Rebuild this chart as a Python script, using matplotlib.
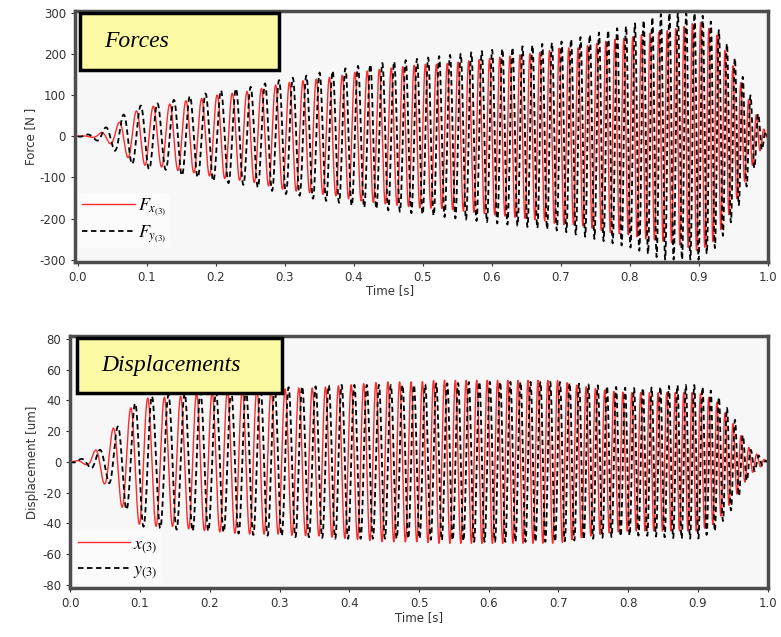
import numpy as np
import matplotlib
matplotlib.use("Agg")
import matplotlib.pyplot as plt
from matplotlib.patches import Rectangle

plt.rcParams['mathtext.fontset'] = 'stix'
plt.rcParams['axes.unicode_minus'] = False

# envelope knots (time in s)
env_t = [0.0, 0.025, 0.05, 0.075, 0.1, 0.125, 0.15, 0.175, 0.2, 0.225, 0.25, 0.275,
         0.3, 0.325, 0.35, 0.375, 0.4, 0.425, 0.45, 0.475, 0.5, 0.525, 0.55, 0.575,
         0.6, 0.625, 0.65, 0.675, 0.7, 0.725, 0.75, 0.775, 0.8, 0.825, 0.85, 0.875,
         0.9, 0.925, 0.95, 0.975, 1.0]
fx_env = [0, 3, 20, 55, 72, 75, 85, 90, 100, 105, 110, 120,
          130, 135, 140, 145, 155, 160, 165, 170, 175, 175, 180, 185,
          190, 195, 200, 205, 215, 215, 225, 235, 240, 250, 255, 265,
          280, 250, 170, 80, 0]
fy_env = [0, 8, 30, 65, 80, 80, 95, 100, 110, 115, 120, 130,
          140, 145, 155, 160, 170, 175, 180, 185, 190, 195, 200, 205,
          210, 215, 220, 225, 230, 240, 250, 260, 270, 285, 300, 300,
          300, 270, 200, 100, 0]
x_env = [0, 2, 15, 30, 41, 42, 42, 44, 45, 46, 47, 47,
         47, 48, 48, 49, 50, 51, 52, 52, 52, 53, 53, 53,
         53, 53, 53, 53, 53, 50, 48, 46, 45, 45, 45, 45,
         45, 40, 25, 8, 0]
y_env = [0, 3, 10, 28, 42, 43, 44, 45, 45, 46, 47, 48,
         48, 49, 49, 50, 50, 50, 50, 50, 50, 51, 51, 52,
         52, 52, 52, 52, 52, 51, 50, 49, 48, 48, 49, 50,
         50, 45, 30, 8, 0]

# excitation frequency knots (Hz) read from peak spacing
freq_t = [0.0, 0.1, 0.2, 0.3, 0.4, 0.5, 0.6, 0.7, 0.8, 0.9, 1.0]
freq_hz = [36, 41, 45, 50, 55, 62, 67, 72, 78, 84, 90]

t = np.linspace(0, 1, 4001)
f = np.interp(t, freq_t, freq_hz)
phase = 2 * np.pi * np.cumsum(f) * (t[1] - t[0])

fx = np.interp(t, env_t, fx_env) * np.sin(phase)
fy = np.interp(t, env_t, fy_env) * np.sin(phase - np.pi / 2)
dx = np.interp(t, env_t, x_env) * np.sin(phase - 0.4)
dy = np.interp(t, env_t, y_env) * np.sin(phase - 0.4 - np.pi / 2)

fig = plt.figure(figsize=(7.81, 6.37), dpi=100)
ax1 = fig.add_axes([0.096, 0.589, 0.887, 0.394])
ax2 = fig.add_axes([0.090, 0.077, 0.893, 0.396])

red = '#ff2a2a'

def style(ax, ylab, yt, ylim, title, box):
    ax.set_facecolor('#f7f7f7')
    for s in ax.spines.values():
        s.set_linewidth(2.5)
        s.set_color('#4d4d4d')
    ax.set_ylim(ylim)
    ax.set_yticks(yt)
    ax.set_xticks(np.arange(0, 1.01, 0.1))
    ax.set_xticklabels(['%.1f' % v for v in np.arange(0, 1.01, 0.1)])
    ax.tick_params(labelsize=8.5, colors='#333333', length=3, width=0.8)
    ax.set_ylabel(ylab, fontsize=8.5, color='#333333', labelpad=2)
    ax.set_xlabel('Time [s]', fontsize=8.5, color='#333333', labelpad=1)
    ax.add_patch(Rectangle((box[0], box[1]), box[2], box[3], transform=ax.transAxes,
                           facecolor='#fbf9a3', edgecolor='black', lw=2.5, zorder=5))
    ax.text(box[0] + 0.035, box[1] + box[3] / 2, title, transform=ax.transAxes,
            fontsize=17, family='Liberation Serif', style='italic', va='center', zorder=6)

def add_legend(ax, y0):
    leg = ax.legend(loc='lower left', bbox_to_anchor=(0.0, y0), frameon=True, fontsize=13,
                    handlelength=2.9, labelspacing=0.25, handletextpad=0.2,
                    borderaxespad=0.2, borderpad=0.2, facecolor='#fbfbfb',
                    edgecolor='none', framealpha=1.0)
    leg.set_zorder(10)

ax1.plot(t, fx, color=red, lw=1.0, label=r'$F_{x_{(3)}}$')
ax1.plot(t, fy, color='black', lw=1.3, ls=(0, (3, 2)), label=r'$F_{y_{(3)}}$')
ax1.set_xlim(-0.004, 1.0)
style(ax1, 'Force [N ]', [-300, -200, -100, 0, 100, 200, 300], (-305, 305),
      'Forces', (0.007, 0.765, 0.287, 0.227))
ax1.xaxis.set_label_coords(0.455, -0.09)
add_legend(ax1, 0.04)

ax2.plot(t, dx, color=red, lw=1.0, label=r'$x_{(3)}$')
ax2.plot(t, dy, color='black', lw=1.3, ls=(0, (3, 2)), label=r'$y_{(3)}$')
ax2.set_xlim(0, 1.0)
style(ax2, 'Displacement [um]', [-80, -60, -40, -20, 0, 20, 40, 60, 80], (-82, 82),
      'Displacements', (0.01, 0.774, 0.294, 0.218))
add_legend(ax2, 0.0)

fig.savefig('out.png', dpi=100)
